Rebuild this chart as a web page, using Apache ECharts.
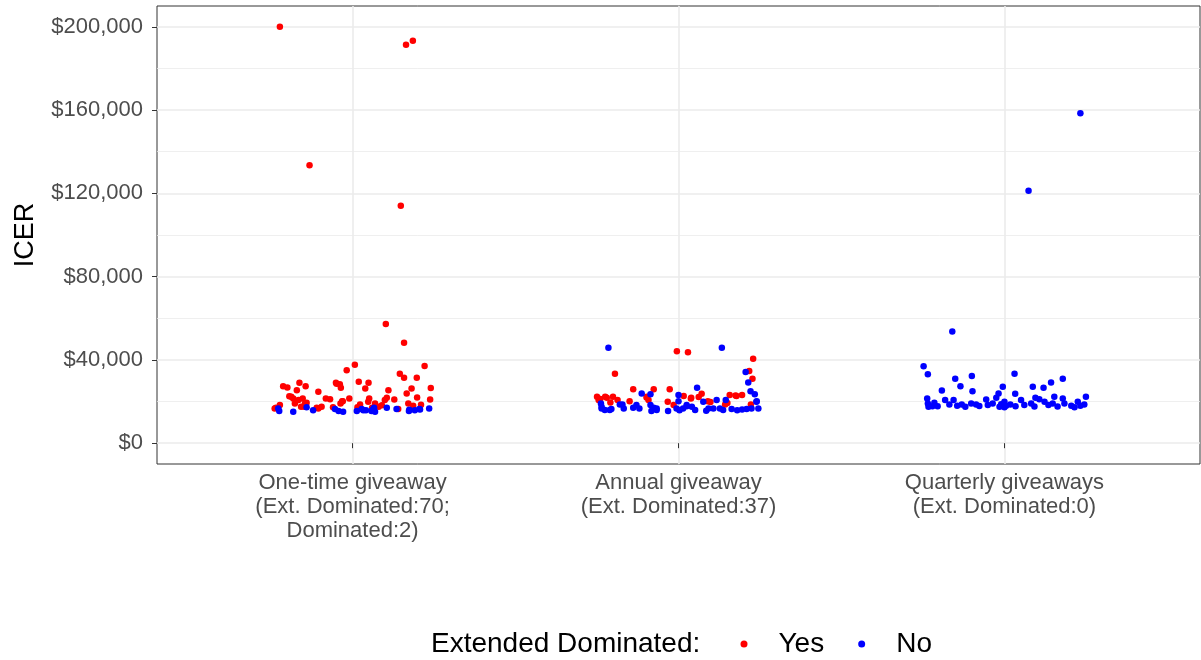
<!DOCTYPE html>
<html>
<head>
<meta charset="utf-8">
<title>ICER by giveaway strategy</title>
<script src="https://cdn.jsdelivr.net/npm/echarts@6/dist/echarts.min.js"></script>
<style>
  html, body { margin: 0; padding: 0; background: #fff; }
  #chart { width: 1201px; height: 660px; }
</style>
</head>
<body>
<div id="chart"></div>
<script>
// Strategy categories (x positions 1, 2, 3) and their axis labels
const categories = ['One-time giveaway', 'Annual giveaway', 'Quarterly giveaways'];
const categoryLabels = [
  'One-time giveaway\n(Ext. Dominated:70;\nDominated:2)',
  'Annual giveaway\n(Ext. Dominated:37)',
  'Quarterly giveaways\n(Ext. Dominated:0)'
];
const yTicks = [0, 40000, 80000, 120000, 160000, 200000];
const yMinorTicks = [20000, 60000, 100000, 140000, 180000];

// Each point: [horizontal jitter within its category, ICER in $]
const oneTimeYes = [
  [-0.223, 200000], [-0.132, 133500], [0.164, 191400], [0.185, 193300], [0.148, 114100],
  [0.102, 57300], [0.158, 48200], [-0.018, 35000], [0.007, 37700], [0.145, 33400],
  [0.158, 31400], [0.221, 37100], [0.197, 31400], [0.019, 29500], [0.049, 29000],
  [0.039, 26300], [0.110, 25400], [0.181, 26300], [0.240, 26500], [0.166, 23900],
  [0.198, 22000], [0.238, 21000], [0.105, 21800], [0.099, 20700], [-0.049, 28600],
  [-0.036, 26600], [-0.105, 24700], [-0.082, 21500], [-0.069, 21100], [-0.010, 21500],
  [-0.030, 20200], [0.051, 21500], [0.048, 19900], [0.069, 19100], [0.023, 18600],
  [0.171, 19100], [0.186, 18000], [0.080, 17500], [0.140, 16400], [-0.213, 27400],
  [-0.200, 26700], [-0.163, 29000], [-0.144, 27400], [-0.171, 25400], [-0.194, 22600],
  [-0.182, 21500], [-0.153, 21500], [-0.146, 19100], [-0.177, 19100], [-0.223, 18300],
  [-0.235, 17000], [-0.148, 17500], [-0.110, 17000], [-0.095, 17500], [-0.037, 19100],
  [-0.239, 16700], [-0.188, 22300], [-0.166, 20700], [-0.158, 17500], [-0.141, 19400],
  [-0.105, 16700], [-0.051, 29000], [-0.039, 28300], [-0.032, 20200], [0.090, 18200],
  [0.128, 21000], [0.210, 18500], [0.060, 17000], [0.015, 17300], [-0.060, 17200]
];
const oneTimeNo = [
  [-0.228, 16700], [-0.225, 15400], [-0.182, 15100], [-0.141, 17300], [-0.121, 15800],
  [-0.054, 16400], [-0.043, 15400], [-0.029, 15100], [0.013, 15400], [0.028, 16400],
  [0.041, 15800], [0.063, 16400], [0.069, 15100], [0.105, 17000], [0.135, 16400],
  [0.173, 15400], [0.191, 15800], [0.205, 16400], [0.235, 16700], [0.058, 15400],
  [0.033, 15800], [0.066, 17000], [0.174, 16000], [0.207, 16200]
];
const annualYes = [
  [-0.005, 44200], [0.029, 43700], [-0.195, 33300], [0.229, 40600], [0.217, 34700],
  [0.227, 31000], [-0.076, 25900], [-0.139, 25900], [-0.027, 25900], [0.071, 23700],
  [0.157, 23100], [0.178, 22700], [0.195, 23100], [-0.250, 22300], [-0.225, 22300],
  [-0.201, 22300], [-0.187, 20700], [-0.245, 20700], [-0.150, 20200], [-0.097, 22300],
  [-0.092, 20700], [0.016, 22700], [0.038, 21500], [-0.033, 19900], [-0.015, 18300],
  [0.090, 20200], [0.222, 18600], [0.143, 18600], [-0.209, 19600], [0.039, 21800],
  [-0.240, 21200], [-0.098, 22000], [0.098, 19800], [0.150, 19300], [-0.220, 21800],
  [0.175, 22900], [0.062, 22200]
];
const annualNo = [
  [-0.215, 45800], [0.133, 45800], [0.206, 34200], [0.214, 29100], [0.221, 25000],
  [0.234, 23500], [-0.086, 23500], [-0.113, 23900], [0.057, 26600], [0.000, 23100],
  [0.117, 20700], [0.145, 20700], [0.239, 19900], [-0.238, 19100], [-0.180, 18600],
  [-0.236, 16700], [-0.226, 15900], [-0.211, 15900], [-0.168, 16700], [-0.139, 17000],
  [-0.120, 16700], [-0.076, 17000], [-0.067, 15900], [-0.083, 15400], [-0.032, 15400],
  [-0.006, 16700], [0.014, 16700], [0.025, 18300], [0.051, 15900], [0.041, 17500],
  [0.092, 16700], [0.107, 16700], [0.127, 16700], [0.137, 15900], [0.163, 16400],
  [0.209, 16400], [0.224, 16700], [0.245, 16700], [0.076, 19900], [-0.129, 18300],
  [-0.172, 18600], [-0.236, 17500], [-0.206, 16400], [-0.086, 18300], [-0.067, 16700],
  [0.000, 20200], [0.025, 17800], [0.240, 20200], [0.003, 15800], [0.085, 15600],
  [0.180, 15800], [0.195, 16200]
];
const quarterlyNo = [
  [0.233, 158500], [0.074, 121200], [-0.160, 53600], [-0.248, 36900], [-0.235, 33100],
  [-0.151, 31000], [-0.100, 32300], [-0.135, 27400], [-0.192, 25300], [-0.098, 25000],
  [0.031, 33300], [-0.005, 27100], [0.033, 23700], [0.087, 27100], [0.120, 26600],
  [0.143, 29100], [0.179, 31000], [-0.018, 23900], [0.095, 21800], [-0.237, 21500],
  [-0.235, 19100], [-0.233, 17500], [-0.215, 19400], [-0.205, 17800], [-0.182, 20700],
  [-0.169, 18600], [-0.156, 20700], [-0.145, 18000], [-0.131, 18600], [-0.102, 19100],
  [-0.087, 18600], [-0.056, 21000], [-0.051, 18300], [-0.036, 19100], [-0.025, 21800],
  [0.000, 19900], [0.005, 18000], [0.018, 18600], [0.051, 20700], [0.061, 18300],
  [0.082, 19100], [0.107, 21100], [0.123, 19900], [0.135, 18300], [0.148, 19100],
  [0.153, 22300], [0.179, 21500], [0.184, 19100], [0.205, 18000], [0.225, 19900],
  [0.233, 18000], [0.250, 22300], [0.245, 18600], [-0.221, 17700], [-0.120, 17500],
  [-0.077, 17900], [-0.015, 17500], [0.034, 17800], [0.092, 17600], [0.163, 17600],
  [0.215, 17300], [-0.010, 18700], [0.000, 17300]
];

// Place jittered points around their category position (1-based)
function place(points, categoryIndex) {
  return points.map(p => [categoryIndex + 1 + p[0], p[1]]);
}

const yesData = [].concat(place(oneTimeYes, 0), place(annualYes, 1));
const noData = [].concat(place(oneTimeNo, 0), place(annualNo, 1), place(quarterlyNo, 2));

const FONT = 'Liberation Sans, Arial, sans-serif';
const GRID_COLOR = '#EBEBEB';

const chart = echarts.init(document.getElementById('chart'), null, { renderer: 'canvas' });

chart.setOption({
  backgroundColor: '#ffffff',
  animation: false,
  textStyle: { fontFamily: FONT },
  grid: {
    left: 157, right: 1, top: 6, bottom: 196,
    containLabel: false,
    outerBoundsMode: 'none',
    show: true, borderColor: '#333333', borderWidth: 1, backgroundColor: 'transparent'
  },
  xAxis: {
    type: 'value',
    min: 0.4,
    max: 3.6,
    axisLine: { show: false },
    axisTick: {
      show: true, length: 5, customValues: [1, 2, 3],
      lineStyle: { color: '#333333', width: 1 }
    },
    axisLabel: {
      customValues: [1, 2, 3],
      formatter: v => categoryLabels[Math.round(v) - 1] || '',
      color: '#4D4D4D', fontSize: 22, lineHeight: 24, margin: 7, fontFamily: FONT
    },
    splitLine: { show: true, lineStyle: { color: GRID_COLOR, width: 1.6 } }
  },
  yAxis: [
    {
      type: 'value',
      min: -10000,
      max: 210000,
      name: 'ICER',
      nameLocation: 'middle',
      nameGap: 118,
      nameRotate: 90,
      nameTextStyle: { color: '#000000', fontSize: 27, fontFamily: FONT },
      axisLine: { show: false },
      axisTick: {
        show: true, length: 5, customValues: yTicks,
        lineStyle: { color: '#333333', width: 1 }
      },
      axisLabel: {
        customValues: yTicks,
        formatter: v => '$' + Number(v).toLocaleString('en-US'),
        color: '#4D4D4D', fontSize: 22, margin: 14, fontFamily: FONT
      },
      splitLine: { show: true, lineStyle: { color: GRID_COLOR, width: 1.6 } }
    },
    {
      // minor gridlines between the labelled breaks
      type: 'value',
      min: -10000,
      max: 210000,
      position: 'left',
      axisLine: { show: false },
      axisTick: { show: false, customValues: yMinorTicks },
      axisLabel: { show: false, customValues: yMinorTicks },
      splitLine: { show: true, lineStyle: { color: GRID_COLOR, width: 0.8 } }
    }
  ],
  legend: {
    data: ['Yes', 'No'],
    orient: 'horizontal',
    left: 740.5,
    top: 630,
    padding: 0,
    icon: 'circle',
    itemWidth: 7,
    itemHeight: 7,
    itemGap: 34,
    textStyle: { color: '#000000', fontSize: 28, fontFamily: FONT, padding: [0, 0, 0, 26] }
  },
  graphic: [
    {
      type: 'text',
      left: 431,
      top: 630,
      style: { text: 'Extended Dominated:', fill: '#000000', fontSize: 28, fontFamily: FONT }
    }
  ],
  series: [
    {
      name: 'Yes',
      type: 'scatter',
      yAxisIndex: 0,
      data: yesData,
      symbolSize: 6.5,
      itemStyle: { color: '#FF0000', opacity: 1 },
      emphasis: { disabled: true }
    },
    {
      name: 'No',
      type: 'scatter',
      yAxisIndex: 0,
      data: noData,
      symbolSize: 6.5,
      itemStyle: { color: '#0000FF', opacity: 1 },
      emphasis: { disabled: true }
    }
  ]
});
</script>
</body>
</html>
